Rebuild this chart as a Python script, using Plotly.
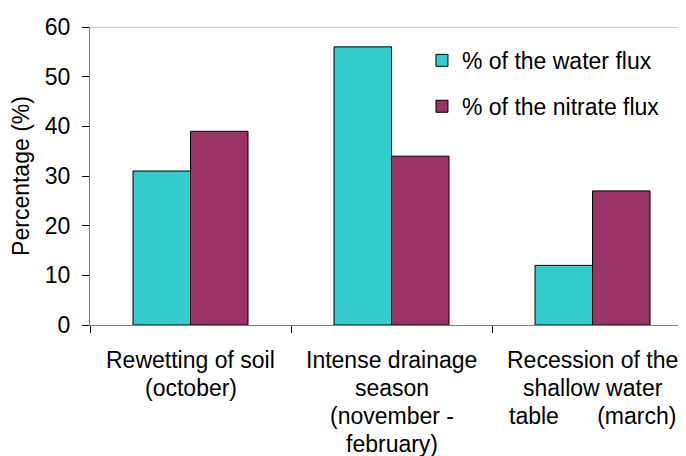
import plotly.graph_objects as go

category_lines = [["Rewetting of soil", "(october)"],
                  ["Intense drainage", "season", "(november -", "february)"],
                  ["Recession of the", "shallow water",
                   "table\u00a0\u00a0\u00a0\u00a0\u00a0 (march)"]]
categories = [" ".join(lines) for lines in category_lines]
water_flux = [31, 56, 12]
nitrate_flux = [39, 34, 27]
y_ticks = [0, 10, 20, 30, 40, 50, 60]

FONT = dict(family="Liberation Sans, Arial, sans-serif", size=23, color="black")

fig = go.Figure()
fig.add_trace(go.Bar(x=categories, y=water_flux, name="% of the water flux",
                     marker=dict(color="#33CCCC", line=dict(color="black", width=1)),
                     legendgroup="a"))
fig.add_trace(go.Bar(x=categories, y=nitrate_flux, name="% of the nitrate flux",
                     marker=dict(color="#993366", line=dict(color="black", width=1)),
                     legendgroup="b"))

fig.add_shape(type="line", xref="paper", yref="y", x0=0, x1=1, y0=60, y1=60,
              line=dict(color="#999999", width=1))

# category labels, one annotation per text line (tighter line spacing)
for cat, lines in zip(categories, category_lines):
    for i, line in enumerate(lines):
        fig.add_annotation(x=cat, y=0, xref="x", yref="y", text=line,
                           showarrow=False, font=FONT, xanchor="center",
                           yanchor="middle", yshift=-(35 + 28 * i))

# page body has an 8px margin, so the figure is 678x448 to fill the 686x456 window
fig.update_layout(
    width=678, height=448,
    margin=dict(l=82, r=0, t=19, b=131, autoexpand=False),
    paper_bgcolor="white", plot_bgcolor="white",
    font=FONT,
    barmode="group", bargap=0.428, bargroupgap=0,
    showlegend=True,
    legend=dict(x=0.557, y=0.96, xanchor="left", yanchor="top",
                font=FONT, bgcolor="rgba(0,0,0,0)",
                traceorder="grouped", tracegroupgap=13),
    xaxis=dict(type="category", range=[-0.5, 2.465], tickson="boundaries",
               ticks="outside", ticklen=7, tickcolor="black",
               showline=True, linecolor="#808080", linewidth=1,
               showgrid=False, showticklabels=False, automargin=False),
    yaxis=dict(range=[0, 60], tickvals=y_ticks, ticks="outside", ticklen=7,
               tickcolor="black", showline=True, linecolor="#808080", linewidth=1,
               showgrid=False, zeroline=False, tickfont=FONT, ticklabelstandoff=7,
               automargin=False,
               title=dict(text="Percentage (%)", font=FONT, standoff=8)),
)

fig.write_html("out.html")
